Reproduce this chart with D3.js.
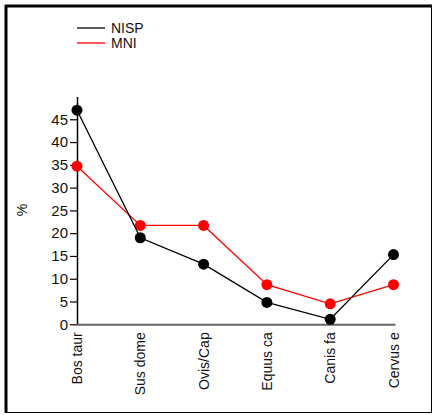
<!DOCTYPE html>
<html>
<head>
<meta charset="utf-8">
<script src="https://cdn.jsdelivr.net/npm/d3@7"></script>
<style>
  body { margin: 0; background: #fff; }
  svg { display: block; font-family: "Liberation Sans", Arial, sans-serif; }
</style>
</head>
<body>
<svg width="436" height="415"></svg>
<script>
var svg = d3.select("svg");

// data
var categories = ["Bos taur", "Sus dome", "Ovis/Cap", "Equus ca", "Canis fa", "Cervus e"];
var nisp = [47, 19, 13.2, 4.8, 1.1, 15.3];
var mni = [34.7, 21.7, 21.7, 8.7, 4.5, 8.7];
var yTicks = [0, 5, 10, 15, 20, 25, 30, 35, 40, 45];
var seriesNames = ["NISP", "MNI"];
var seriesColors = ["#000000", "#ff0000"];

// outer frame
svg.append("rect")
  .attr("x", 6.5).attr("y", 6.5)
  .attr("width", 425).attr("height", 406)
  .attr("fill", "none").attr("stroke", "#000").attr("stroke-width", 1);
svg.append("line").attr("x1", 6).attr("x2", 6).attr("y1", 5).attr("y2", 413)
  .attr("stroke", "#000").attr("stroke-width", 3);
svg.append("line").attr("x1", 5).attr("x2", 432).attr("y1", 6).attr("y2", 6)
  .attr("stroke", "#000").attr("stroke-width", 3);

var x = d3.scalePoint().domain(categories).range([77, 393.5]);
var y = d3.scaleLinear().domain([0, 50]).range([324.3, 96.5]);

// y axis
var yAxis = svg.append("g").attr("transform", "translate(77,0)")
  .call(d3.axisLeft(y).tickValues(yTicks).tickSize(7).tickPadding(2).tickSizeOuter(0));
yAxis.select(".domain").attr("stroke", "#000").attr("stroke-width", 1.5);
yAxis.selectAll(".tick line").attr("stroke", "#000").attr("stroke-width", 1.2);
yAxis.selectAll(".tick text")
  .attr("font-size", 15).attr("fill", "#111")
  .attr("font-family", "Liberation Sans, Arial, sans-serif");

// x axis
svg.append("line")
  .attr("x1", x(categories[0])).attr("x2", x(categories[categories.length - 1]) + 2)
  .attr("y1", y(0) + 0.5).attr("y2", y(0) + 0.5)
  .attr("stroke", "#666").attr("stroke-width", 2);

svg.selectAll(".xlab")
  .data(categories)
  .enter().append("text")
  .attr("class", "xlab")
  .attr("transform", function(d) { return "translate(" + (x(d) + 5) + "," + (y(0) + 8) + ") rotate(-90)"; })
  .attr("text-anchor", "end")
  .attr("font-size", 14)
  .attr("fill", "#111")
  .text(function(d) { return d; });

// y label
svg.append("text")
  .attr("transform", "translate(27,210) rotate(-90)")
  .attr("text-anchor", "middle")
  .attr("font-size", 14)
  .attr("fill", "#111")
  .text("%");

// lines and points
var line = d3.line()
  .x(function(d, i) { return x(categories[i]); })
  .y(function(d) { return y(d); });

[mni, nisp].forEach(function(vals) {
  var col = vals === nisp ? seriesColors[0] : seriesColors[1];
  svg.append("path")
    .datum(vals)
    .attr("d", line)
    .attr("fill", "none")
    .attr("stroke", col)
    .attr("stroke-width", 1.3);
  svg.append("g").selectAll("circle")
    .data(vals)
    .enter().append("circle")
    .attr("cx", function(d, i) { return x(categories[i]); })
    .attr("cy", function(d) { return y(d); })
    .attr("r", 5.5)
    .attr("fill", col);
});

// legend
var legend = svg.append("g").selectAll("g")
  .data(seriesNames)
  .enter().append("g")
  .attr("transform", function(d, i) { return "translate(77," + (28 + i * 15) + ")"; });
legend.append("line")
  .attr("x1", 0).attr("x2", 28)
  .attr("stroke", function(d, i) { return seriesColors[i]; })
  .attr("stroke-width", 1.3);
legend.append("text")
  .attr("x", 34).attr("y", 5)
  .attr("font-size", 14)
  .attr("fill", "#111")
  .text(function(d) { return d; });
</script>
</body>
</html>
